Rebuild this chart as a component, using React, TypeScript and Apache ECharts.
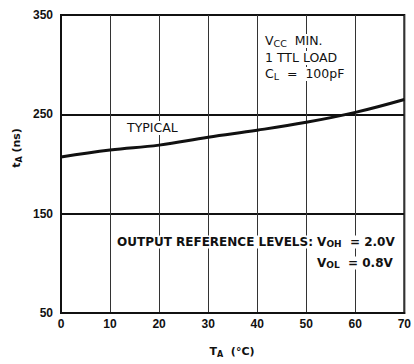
import React, { useEffect, useRef } from "react";
import * as echarts from "echarts";

const tempC = [0, 10, 20, 30, 40, 50, 60, 70];
const accessNs = [207, 214, 219, 227, 234, 242, 252, 265];
const xMin = 0, xMax = 70, xStep = 10;
const yMin = 50, yMax = 350, yStep = 100;

const ink = "#111";
const tickFont = "'Liberation Sans', Arial, sans-serif";
const annFont = "'DejaVu Sans', sans-serif";

function richSub(size: number, subSize: number, weight: string) {
  const lh = Math.round(size * 1.1);
  return {
    n: { fontFamily: annFont, fontSize: size, fontWeight: weight, fill: ink, color: ink, verticalAlign: "top", lineHeight: lh },
    s: { fontFamily: annFont, fontSize: subSize, fontWeight: weight, fill: ink, color: ink, verticalAlign: "bottom", lineHeight: lh },
  };
}

function txt(x: number, y: number, text: string, size: number, weight: string) {
  return {
    type: "text",
    x,
    y,
    z: 100,
    style: {
      text,
      rich: richSub(size, size - 3, weight),
      fill: ink,
      align: "left",
      verticalAlign: "middle",
      backgroundColor: "#fff",
      padding: [0, 2, 0, 2],
    },
  };
}

export default function App() {
  const ref = useRef<HTMLDivElement>(null);
  useEffect(() => {
    const chart = echarts.init(ref.current!, null, { renderer: "svg" });
    chart.setOption({
      animation: false,
      backgroundColor: "#fff",
      grid: { left: 61, right: 8, top: 15, bottom: 51, show: true, borderColor: ink, borderWidth: 2 },
      xAxis: {
        type: "value",
        min: xMin,
        max: xMax,
        interval: xStep,
        axisLine: { show: true, lineStyle: { color: ink, width: 2 } },
        axisTick: { show: false },
        axisLabel: { color: ink, fontFamily: tickFont, fontWeight: "bold", fontSize: 12, margin: 5 },
        splitLine: { show: true, lineStyle: { color: "#333", width: 1 } },
      },
      yAxis: {
        type: "value",
        min: yMin,
        max: yMax,
        interval: yStep,
        axisLine: { show: true, lineStyle: { color: ink, width: 2 } },
        axisTick: { show: false },
        axisLabel: { color: ink, fontFamily: tickFont, fontWeight: "bold", fontSize: 12, margin: 8 },
        splitLine: { show: true, lineStyle: { color: ink, width: 2 } },
      },
      series: [
        {
          type: "line",
          data: tempC.map((t, i) => [t, accessNs[i]]),
          smooth: 0.4,
          symbol: "none",
          lineStyle: { color: ink, width: 3 },
          z: 5,
        },
      ],
      graphic: [
        txt(263, 41, "{n|V}{s|CC}{n|  MIN.}", 12.5, "normal"),
        txt(263, 58, "{n|1 TTL LOAD}", 12.5, "normal"),
        txt(263, 74, "{n|C}{s|L}{n|  =  100pF}", 12.5, "normal"),
        txt(125, 128, "{n|TYPICAL}", 12.5, "normal"),
        txt(115, 242, "{n|OUTPUT REFERENCE LEVELS: V}{s|OH}{n|  = 2.0V}", 12, "bold"),
        txt(315, 263, "{n|V}{s|OL}{n|  = 0.8V}", 12, "bold"),
        {
          type: "text",
          x: 17,
          y: 148,
          rotation: Math.PI / 2,
          style: {
            text: "{n|t}{s|A}{n| (ns)}",
            rich: richSub(11, 8, "bold"),
            align: "center",
            verticalAlign: "middle",
            fill: ink,
          },
        },
        {
          type: "text",
          x: 232,
          y: 352,
          style: {
            text: "{n|T}{s|A}{n|  (°C)}",
            rich: richSub(11, 8, "bold"),
            align: "center",
            verticalAlign: "middle",
            fill: ink,
          },
        },
      ],
    });
    return () => chart.dispose();
  }, []);
  return <div ref={ref} style={{ width: 414, height: 364, position: "absolute", left: 0, top: 0 }} />;
}
